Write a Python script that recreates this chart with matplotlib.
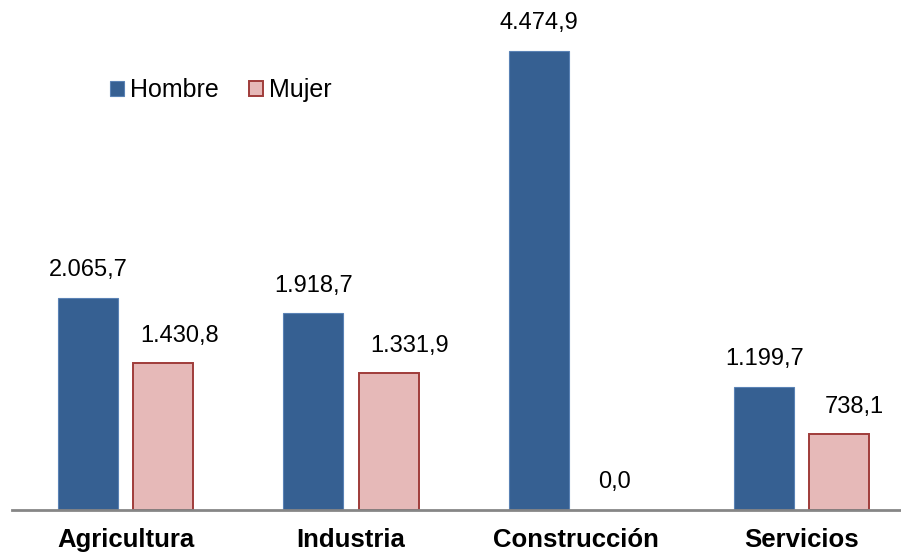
import matplotlib.pyplot as plt
import numpy as np

# datos
categorias = ["Agricultura", "Industria", "Construcción", "Servicios"]
hombre = [2065.7, 1918.7, 4474.9, 1199.7]
mujer = [1430.8, 1331.9, 0.0, 738.1]
# desplazamiento horizontal de las etiquetas de Mujer (puntos), como en el original
desp_mujer = [11.5, 15, 0, 11]


def fmt(v):
    # formato español: punto de miles, coma decimal
    s = f"{v:,.1f}"
    return s.replace(",", "X").replace(".", ",").replace("X", ".")


plt.rcParams['font.family'] = ['Liberation Sans', 'DejaVu Sans']

fig = plt.figure(figsize=(9.01, 5.54), dpi=100)
ax = fig.add_axes([12 / 901, 44 / 554, 889 / 901, 510 / 554])

x = np.arange(len(categorias))
w = 0.266
off = 0.167
b1 = ax.bar(x - off, hombre, w, color="#366092", edgecolor="#5a82b5", linewidth=0.8, label="Hombre")
b2 = ax.bar(x + off, mujer, w, color="#e6b9b8", edgecolor="#a03c3a", linewidth=1.4, label="Mujer")

for bars, vals, dx in ((b1, hombre, [0] * 4), (b2, mujer, desp_mujer)):
    for r, v, d in zip(bars, vals, dx):
        if v == 0:
            r.set_linewidth(0)  # barra vacía, sin borde
        ax.annotate(fmt(v), (r.get_x() + r.get_width() / 2, r.get_height()),
                    xytext=(d, 12), textcoords="offset points",
                    ha="center", va="bottom", fontsize=17)

ax.set_xlim(-0.504, 3.44)
ax.set_ylim(0, 4972)
ax.set_yticks([])
ax.set_xticks(x)
ax.set_xticklabels(categorias, fontsize=18.5, fontweight="bold")
ax.tick_params(axis="x", length=0, pad=13)
for s in ["top", "right", "left"]:
    ax.spines[s].set_visible(False)
ax.spines["bottom"].set_color("#868686")
ax.spines["bottom"].set_linewidth(2)

ax.legend(loc="upper left", bbox_to_anchor=(100 / 901, 1 - 68 / 554), bbox_transform=fig.transFigure,
          ncol=2, frameon=False, fontsize=18, handlelength=0.55, handleheight=0.55,
          handletextpad=0.25, columnspacing=1.2, borderaxespad=0)

fig.savefig("out.png", dpi=100)
